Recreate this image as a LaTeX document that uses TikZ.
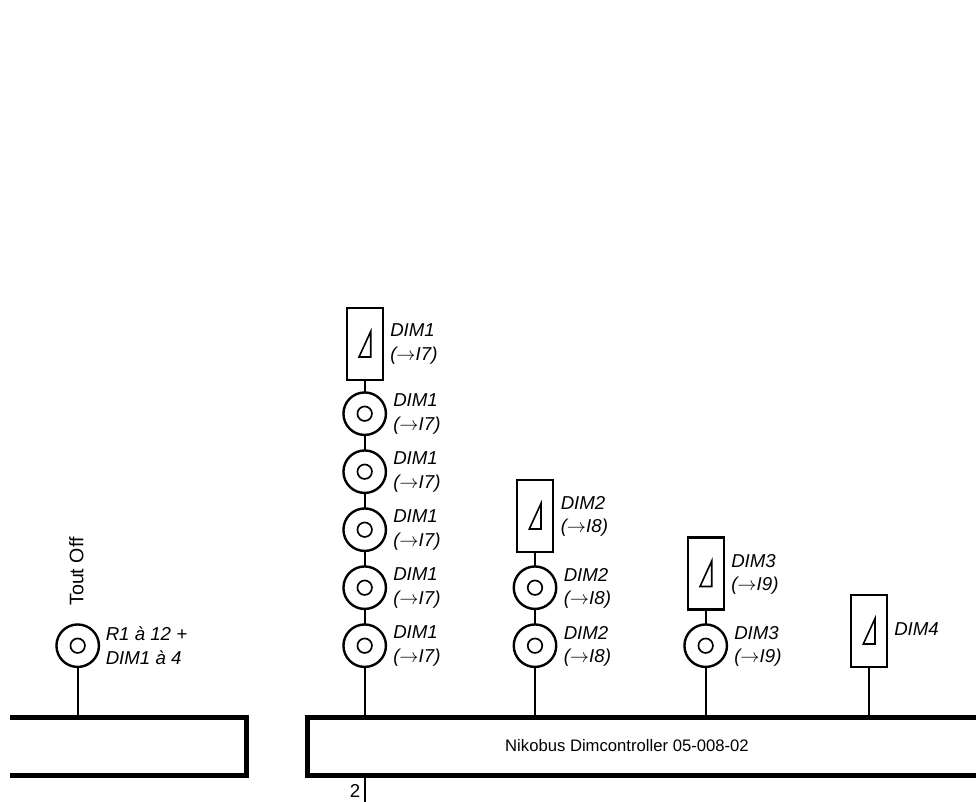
\documentclass[tikz,border=0pt]{standalone}
\usepackage{fontspec}
\setmainfont{Liberation Sans}
\newcommand{\toarrow}{\ensuremath{\rightarrow}}
\tikzset{
  x=0.75pt,y=-0.75pt,
  ring/.style={circle,draw,line width=1.8pt,minimum size=42.5*0.75pt,inner sep=0pt,outer sep=0pt},
  hub/.style={circle,draw,line width=1.25pt,minimum size=14.5*0.75pt,inner sep=0pt,outer sep=0pt},
  dimbox/.style={rectangle,draw,line width=1.7pt,minimum width=36*0.75pt,minimum height=72*0.75pt,inner sep=0pt,outer sep=0pt},
  wire/.style={line width=1.2pt},
  ramp/.style={line width=1.2pt,line join=miter},
  bar/.style={line width=3.75pt,line join=miter},
  lab/.style={anchor=west,align=left,inner sep=0pt,font=\fontsize{14}{17.3}\selectfont\itshape},
  plain/.style={inner sep=0pt,font=\fontsize{12.5}{14}\selectfont},
}
\newcommand{\rampin}[1]{\draw[ramp] ([shift={(6,-12.5)}]#1.center) -- ([shift={(6,13)}]#1.center) -- ([shift={(-5.7,13)}]#1.center) -- cycle;}
\newcommand{\ringat}[3]{\node[ring] (#1) at (#2,#3) {};\node[hub] (#1h) at (#1.center) {};}
\begin{document}
\begin{tikzpicture}
\useasboundingbox (0,0) rectangle (976,802);
% bus boxes
\coordinate (aL) at (10,717.5);
\coordinate (aR) at (246.5,717.5);
\coordinate (aRb) at (246.5,775);
\coordinate (aLb) at (10,775);
\coordinate (bR) at (976,717.5);
\coordinate (bL) at (307,717.5);
\coordinate (bLb) at (307,775);
\coordinate (bRb) at (976,775);
\draw[bar] (aL) -- (aR) -- (aRb) -- (aLb);
\draw[bar] (bR) -- (bL) -- (bLb) -- (bRb);
\node[plain] (title) at (627,746) {Nikobus Dimcontroller 05-008-02};
% left
\ringat{t}{77.7}{645.7}
\draw[wire] (t) -- (t |- aL);
\node[lab] (tl) at (105.5,645.7) {R1 à 12 +\\DIM1 à 4};
\node[plain,rotate=90,font=\fontsize{14.7}{16}\selectfont] (toff) at (76.5,571.5) {Tout Off};
% column 1
\ringat{a}{364.7}{645.7}
\ringat{b}{364.7}{587.7}
\ringat{c}{364.7}{529.7}
\ringat{d}{364.7}{471.7}
\ringat{e}{364.7}{413.7}
\node[dimbox] (f) at (364.7,344) {};
\rampin{f}
\draw[wire] (a) -- (a |- bL);
\draw[wire] (a) -- (b);
\draw[wire] (b) -- (c);
\draw[wire] (c) -- (d);
\draw[wire] (d) -- (e);
\draw[wire] (e) -- (f);
\foreach \n/\y in {a/646,b/588,c/530,d/472,e/414}{
  \node[lab] (l\n) at (393,\y) {DIM1\\(\toarrow I7)};
}
\node[lab] (lf) at (390,344) {DIM1\\(\toarrow I7)};
% column 2
\ringat{g}{535}{645.7}
\ringat{h}{535}{587.7}
\node[dimbox] (i) at (535,516) {};
\rampin{i}
\draw[wire] (g) -- (g |- bL);
\draw[wire] (g) -- (h);
\draw[wire] (h) -- (i);
\node[lab] (lg) at (563.5,646) {DIM2\\(\toarrow I8)};
\node[lab] (lh) at (563.5,588) {DIM2\\(\toarrow I8)};
\node[lab] (li) at (560.5,516) {DIM2\\(\toarrow I8)};
% column 3
\ringat{j}{705.7}{645.7}
\node[dimbox] (k) at (705.7,573.5) {};
\rampin{k}
\draw[wire] (j) -- (j |- bL);
\draw[wire] (j) -- (k);
\node[lab] (lj) at (734,646) {DIM3\\(\toarrow I9)};
\node[lab] (lk) at (731,574) {DIM3\\(\toarrow I9)};
% column 4
\node[dimbox] (m) at (869,631) {};
\rampin{m}
\draw[wire] (m) -- (m |- bL);
\node[lab] (lm) at (894,629.5) {DIM4};
% lower lead
\coordinate (out) at (364.7,802);
\draw[wire] (a |- bLb) -- (out);
\node[plain,font=\fontsize{14}{16}\selectfont] (two) at (355,791) {2};
\end{tikzpicture}
\end{document}
